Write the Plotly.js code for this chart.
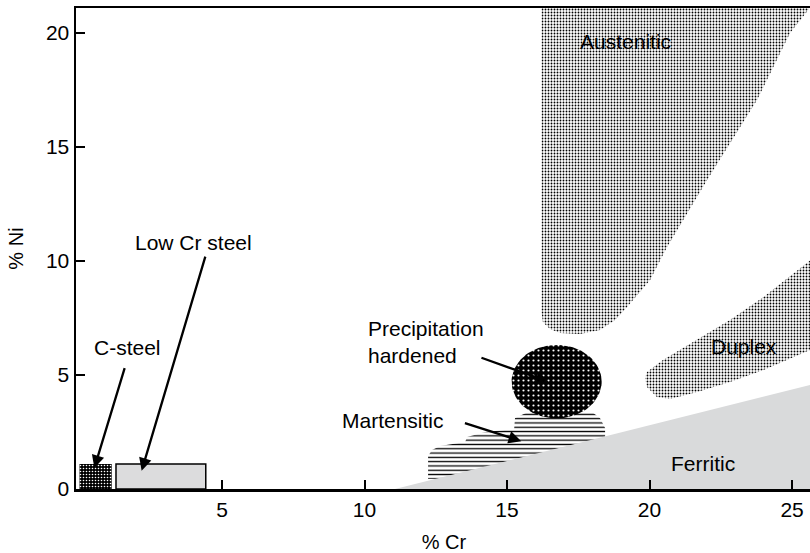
<!DOCTYPE html>
<html>
<head>
<meta charset="utf-8">
<script src="https://cdn.plot.ly/plotly-3.0.1.min.js"></script>
<style>
html,body{margin:0;padding:0;overflow:hidden;background:#fff;}
#chart{width:820px;height:553px;}
</style>
</head>
<body>
<div id="chart"></div>
<script>
// ---- data ----
const xTickVals = [5, 10, 15, 20, 25];
const yTickVals = [0, 5, 10, 15, 20];

// C-steel box
const cSteelX = [0, 1.13, 1.13, 0, 0];
const cSteelY = [0, 0, 1.1, 1.1, 0];
// Low Cr steel box
const lowCrX = [1.28, 4.43, 4.43, 1.28, 1.28];
const lowCrY = [0, 0, 1.1, 1.1, 0];
// Ferritic wedge
const ferriticX = [11.07, 26.0, 26.0, 11.07];
const ferriticY = [0, 4.68, 0, 0];
// Martensitic region (outline)
const martX = [15.74, 17.98, 18.26, 18.44, 18.44, 12.23, 12.23, 12.37, 12.65, 13.53, 13.6, 14.23, 15.25, 15.28, 15.74];
const martY = [3.38, 3.38, 3.11, 2.68, 0.44, 0.44, 1.45, 1.71, 1.89, 2.06, 2.28, 2.5, 2.63, 3.11, 3.38];
// Precipitation hardened ellipse: centre and radii
const precipCenter = [16.74, 4.71];
const precipRadii = [1.58, 1.61];
// Austenitic region (outline)
const austX = [16.21, 25.7, 25.56, 24.93, 23.77, 22.02, 20.61, 20.02, 19.21, 18.79, 18.26, 17.56, 16.86, 16.51, 16.26, 16.21, 16.21];
const austY = [21.5, 21.5, 21.0, 20.0, 17.06, 13.55, 10.61, 9.17, 7.98, 7.41, 6.97, 6.8, 6.84, 7.02, 7.32, 7.76, 21.5];
// Duplex band (outline)
const duplexX = [25.7, 24.0, 22.82, 21.67, 20.47, 19.91, 19.84, 19.91, 20.26, 20.72, 21.67, 22.82, 24.0, 25.7, 25.7];
const duplexY = [10.09, 8.42, 7.41, 6.54, 5.66, 5.13, 4.87, 4.47, 4.04, 3.95, 4.25, 4.69, 5.22, 6.14, 10.09];

// Labels
const labelText = ['Austenitic', 'Duplex', 'Ferritic', 'Martensitic', 'C-steel', 'Low Cr steel'];
const labelX = [19.15, 23.33, 21.88, 11.0, 1.70, 4.0];
const labelY = [19.65, 6.23, 1.1, 3.0, 6.2, 10.8];
const precipLabel = 'Precipitation<br>hardened';
const precipLabelX = 10.04;
const precipLabelY = 6.45;

// Arrows: tail -> head
const arrowTailX = [1.6, 4.43, 14.05, 13.47];
const arrowTailY = [5.37, 10.26, 5.78, 2.91];
const arrowHeadX = [0.52, 2.18, 16.45, 15.5];
const arrowHeadY = [0.92, 0.8, 4.71, 2.1];

// ---- build ----
const FONT = 'Liberation Sans, Arial, Helvetica, sans-serif';

const ellX = [], ellY = [];
for (let i = 0; i <= 120; i++) {
  const t = 2 * Math.PI * i / 120;
  ellX.push(precipCenter[0] + precipRadii[0] * Math.cos(t));
  ellY.push(precipCenter[1] + precipRadii[1] * Math.sin(t));
}

function region(x, y, opts) {
  return Object.assign({
    x: x, y: y, type: 'scatter', mode: 'lines', fill: 'toself',
    hoverinfo: 'skip', showlegend: false
  }, opts);
}

const noLine = {width: 0, color: 'rgba(0,0,0,0)'};
const stipple = {shape: '.', bgcolor: 'white', fgcolor: 'black', size: 3, solidity: 0.3};

const traces = [
  region(martX, martY, {
    line: noLine, fillcolor: 'white',
    fillpattern: {shape: '-', bgcolor: 'white', fgcolor: 'black', size: 4.3, solidity: 0.3}
  }),
  region(ellX, ellY, {
    line: noLine, fillcolor: 'black',
    fillpattern: {shape: '.', bgcolor: 'black', fgcolor: 'white', size: 5, solidity: 0.15}
  }),
  region(ferriticX, ferriticY, {line: noLine, fillcolor: '#d9dadb'}),
  region(austX, austY, {line: noLine, fillcolor: 'white', fillpattern: stipple}),
  region(duplexX, duplexY, {line: noLine, fillcolor: 'white', fillpattern: stipple}),
  region(cSteelX, cSteelY, {
    line: noLine, fillcolor: 'black',
    fillpattern: {shape: '.', bgcolor: 'black', fgcolor: 'white', size: 3, solidity: 0.22}
  }),
  region(lowCrX, lowCrY, {line: {width: 1.5, color: 'black'}, fillcolor: '#dcdcdd'})
];

const annotations = [];
for (let i = 0; i < labelText.length; i++) {
  annotations.push({
    x: labelX[i], y: labelY[i], xref: 'x', yref: 'y', text: labelText[i],
    showarrow: false, xanchor: 'center', yanchor: 'middle',
    font: {family: FONT, size: 21, color: 'black'}
  });
}
annotations.push({
  x: precipLabelX, y: precipLabelY, xref: 'x', yref: 'y', text: precipLabel,
  showarrow: false, xanchor: 'left', yanchor: 'middle', align: 'left',
  font: {family: FONT, size: 21, color: 'black'}
});
for (let i = 0; i < arrowTailX.length; i++) {
  annotations.push({
    x: arrowHeadX[i], y: arrowHeadY[i], xref: 'x', yref: 'y',
    ax: arrowTailX[i], ay: arrowTailY[i], axref: 'x', ayref: 'y',
    text: '', showarrow: true, arrowhead: 2, arrowsize: 1.1, arrowwidth: 2.3,
    arrowcolor: 'black', standoff: 0, startstandoff: 0
  });
}

const layout = {
  width: 820, height: 553,
  margin: {l: 76, r: 8, t: 8, b: 64},
  paper_bgcolor: 'white', plot_bgcolor: 'white',
  font: {family: FONT, size: 21, color: 'black'},
  showlegend: false,
  xaxis: {
    range: [-0.123, 25.70], tickvals: xTickVals, ticktext: xTickVals.map(String),
    ticks: 'inside', ticklen: 9, tickwidth: 2, tickcolor: 'black',
    showline: true, linewidth: 2.5, linecolor: 'black', mirror: true,
    showgrid: false, zeroline: false, automargin: false,
    tickfont: {family: FONT, size: 21, color: 'black'},
    title: {text: '% Cr', font: {family: FONT, size: 20, color: 'black'}, standoff: 16}
  },
  yaxis: {
    range: [0, 21.1], tickvals: yTickVals, ticktext: yTickVals.map(String),
    ticks: 'inside', ticklen: 9, tickwidth: 2, tickcolor: 'black',
    showline: true, linewidth: 2.5, linecolor: 'black', mirror: true,
    showgrid: false, zeroline: false, automargin: false,
    tickfont: {family: FONT, size: 21, color: 'black'},
    title: {text: '% Ni', font: {family: FONT, size: 20, color: 'black'}, standoff: 17}
  },
  annotations: annotations
};

Plotly.newPlot('chart', traces, layout, {displayModeBar: false, staticPlot: true});
</script>
</body>
</html>
